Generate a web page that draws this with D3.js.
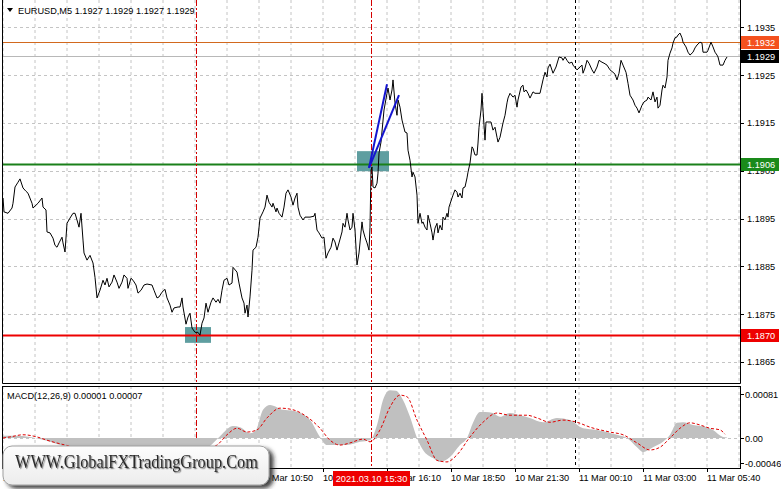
<!DOCTYPE html>
<html><head><meta charset="utf-8">
<script src="https://cdn.jsdelivr.net/npm/d3@7/dist/d3.min.js"></script>
<style>
body{margin:0;background:#fff}
svg{display:block}
text{font-family:"Liberation Sans",Arial,sans-serif}
</style>
</head><body>
<svg id="c" width="781" height="489"></svg>
<script>
// ---------- DATA ----------
const symbolTitle = "EURUSD,M5  1.1927 1.1929 1.1927 1.1929";
const macdTitle = "MACD(12,26,9) 0.00001 0.00007";
const watermark = "WWW.GlobalFXTradingGroup.Com";

// bar position (5-minute bars from the left edge) and close price
const priceBars = [0,0.5,2.5,4.5,5,6,7.5,8.5,10,11.5,12.5,14.5,15,16.5,17.5,19.5,20,21.5,22,23.5,25,26,27,28,29.5,30,31,32,33.5,35,36,37,38,39,40,40.5,42,43.5,45,46,47,48.5,50,51,52,53,54.5,55.5,57,58,59.5,60.5,62,62.5,64,65,66.5,67.5,69,70.5,72,74.5,75.5,77,78,79.5,81,82,83.5,84.5,85.5,87.5,88.5,89.5,90,91.5,92.5,93.5,94.5,96,97.5,98.5,99.5,100.5,101.5,102.5,104,105,106.5,107.5,108.5,109.5,110.5,112,113,114.5,115,117,118,119.5,120.5,121,122,122.5,123.5,124.5,125,126.5,127.5,128.5,130,131,132,133,134.5,135,136.5,137,138,139.5,140.5,141.5,142.5,144,145,146,147,147.5,148.5,150,151,153.5,155.5,156,157,158,159.5,160.5,161.5,162.5,164,165,166,167,168,169.5,170,171,172,172.5,173.5,174.5,175,176,177,178,179.5,180,181,182,183,183.5,184,184.5,185,186,187,187.5,188,189,190.5,192,192.5,193.5,194.5,195,196,197,197.5,198.5,199.5,201,202,202.5,203.5,204.5,205,206,207,207.5,208.5,209.5,210,211,212,212.5,213.5,214.5,215,216,217,217.5,218.5,219.5,220,221,222,222.5,223,224.5,225,226,227,227.5,228.5,229.5,230,231,232,232.5,233.5,234.5,235,236,237,237.5,238,239,239.5,240,241,241.5,242.5,244,245,246,247,247.5,248.5,250,251,252,252.5,253.5,255,256,257,257.5,259,260,260.5,261.5,262.5,263.5,265,266,268.5,270,271,272,272.5,273.5,275,276.5,278,279.5,280,281,282,283,284.5,285,287,288,289.5,290,291,292,293,294.5,295.5,297,298,299.5,300.5,302,303.5,305,306,307,308,309,310,311.5,312.5,313.5,315,316,317,318,319.5,320.5,322,322.5,324,325,326,327,327.5,328.5,329.5,330,331,332,332.5,333.5,334.5,335,336,337,337.5,338.5,339.5,340,341.5,342.5,343.5,345,346,347,348.5,349.5,350,352,352.5,354,355,356,357,357.5,358.5,360,361,362];
const priceClose = [1.18993,1.18964,1.18961,1.18972,1.18982,1.19016,1.19026,1.19033,1.19014,1.19007,1.19003,1.18982,1.18972,1.18978,1.18982,1.18993,1.18974,1.18968,1.18922,1.18920,1.18909,1.18894,1.18890,1.18899,1.18911,1.18899,1.18880,1.18940,1.18951,1.18961,1.18961,1.18947,1.18932,1.18961,1.18905,1.18878,1.18863,1.18873,1.18857,1.18827,1.18784,1.18800,1.18821,1.18811,1.18825,1.18807,1.18817,1.18832,1.18817,1.18804,1.18817,1.18832,1.18825,1.18804,1.18825,1.18821,1.18811,1.18794,1.18800,1.18811,1.18813,1.18811,1.18800,1.18784,1.18786,1.18796,1.18802,1.18784,1.18769,1.18754,1.18763,1.18765,1.18765,1.18784,1.18765,1.18729,1.18744,1.18752,1.18721,1.18712,1.18712,1.18706,1.18731,1.18742,1.18773,1.18754,1.18775,1.18784,1.18775,1.18781,1.18773,1.18800,1.18821,1.18825,1.18811,1.18815,1.18848,1.18838,1.18815,1.18784,1.18773,1.18752,1.18769,1.18744,1.18786,1.18842,1.18884,1.18890,1.18911,1.18951,1.18964,1.18974,1.18999,1.18984,1.18974,1.18982,1.18964,1.18972,1.18961,1.18953,1.18974,1.19003,1.19010,1.18995,1.18978,1.18993,1.19003,1.18974,1.18957,1.18947,1.18953,1.18953,1.18955,1.18961,1.18926,1.18920,1.18909,1.18911,1.18867,1.18878,1.18890,1.18909,1.18901,1.18884,1.18899,1.18922,1.18940,1.18932,1.18961,1.18947,1.18926,1.18932,1.18961,1.18926,1.18853,1.18878,1.18943,1.18926,1.18911,1.18899,1.18884,1.18932,1.19051,1.19058,1.19016,1.19014,1.19024,1.19045,1.19087,1.19110,1.19177,1.19212,1.19223,1.19198,1.19219,1.19240,1.19192,1.19166,1.19198,1.19183,1.19156,1.19131,1.19129,1.19093,1.19072,1.19037,1.19047,1.19037,1.18999,1.18940,1.18961,1.18940,1.18943,1.18932,1.18926,1.18957,1.18940,1.18920,1.18905,1.18930,1.18940,1.18920,1.18936,1.18926,1.18953,1.18947,1.18961,1.18953,1.18974,1.18993,1.18999,1.19010,1.19005,1.18995,1.19003,1.18993,1.19014,1.19016,1.19035,1.19047,1.19066,1.19100,1.19097,1.19083,1.19083,1.19108,1.19141,1.19177,1.19212,1.19177,1.19114,1.19152,1.19152,1.19152,1.19135,1.19141,1.19120,1.19110,1.19120,1.19150,1.19166,1.19192,1.19202,1.19212,1.19204,1.19208,1.19183,1.19198,1.19225,1.19229,1.19215,1.19219,1.19212,1.19202,1.19215,1.19212,1.19212,1.19240,1.19256,1.19246,1.19265,1.19273,1.19254,1.19267,1.19288,1.19286,1.19281,1.19288,1.19281,1.19275,1.19277,1.19271,1.19261,1.19265,1.19271,1.19254,1.19265,1.19281,1.19275,1.19261,1.19254,1.19267,1.19281,1.19277,1.19275,1.19271,1.19261,1.19256,1.19252,1.19240,1.19254,1.19281,1.19271,1.19256,1.19233,1.19208,1.19198,1.19187,1.19181,1.19171,1.19187,1.19194,1.19198,1.19204,1.19198,1.19215,1.19194,1.19204,1.19181,1.19187,1.19219,1.19229,1.19223,1.19246,1.19281,1.19296,1.19307,1.19317,1.19328,1.19330,1.19334,1.19338,1.19328,1.19319,1.19309,1.19298,1.19292,1.19298,1.19307,1.19313,1.19319,1.19317,1.19298,1.19298,1.19302,1.19319,1.19309,1.19298,1.19292,1.19288,1.19271,1.19271,1.19281,1.19288];

// MACD histogram (main line) and signal line
const macdBars = [0,6,13.5,21,28.5,36,43.5,51,58.5,66,73.5,81,88.5,96,101,106,109.5,115,118.5,123.5,126.5,130,133.5,140,145,153.5,158.5,162,172,178.5,183.5,187,190,193.5,196.5,200,203.5,207,210,215,218.5,223.5,228.5,232,235,238.5,241,245,248.5,253.5,258.5,263.5,270,277,283.5,290,297,307,312,317,320,325,330,333.5,337,340,345,352,355,360,362];
const macdMain = [0.00004,0.00004,0.00002,-0.00004,-0.00013,-0.00026,-0.00037,-0.00041,-0.00031,-0.00026,-0.00022,-0.00022,-0.00026,-0.00031,-0.00022,-0.00006,0.00007,0.00022,0.00020,0.00009,0.00015,0.00052,0.00061,0.00052,0.00050,0.00033,0.00002,-0.00013,-0.00013,-0.00007,-0.00004,0.00024,0.00070,0.00088,0.00087,0.00070,0.00039,0.00000,-0.00022,-0.00037,-0.00044,-0.00035,-0.00013,0.00000,0.00028,0.00048,0.00048,0.00046,0.00039,0.00046,0.00042,0.00037,0.00029,0.00037,0.00033,0.00018,0.00015,0.00006,0.00000,-0.00017,-0.00026,-0.00017,-0.00007,0.00006,0.00028,0.00029,0.00024,0.00020,0.00015,0.00002,0.00001];
const signalBars = [0,3.5,10,17,22,33.5,48.5,63.5,78.5,93.5,103.5,107,112,117,122,127,132,138.5,145,152,158.5,163.5,168.5,173.5,180,183.5,188.5,193.5,198.5,202,207,212,217,222,227,233.5,240,247,253.5,262,267,273.5,280,287,293.5,303.5,310,317,323.5,328.5,333.5,338.5,343.5,348.5,353.5,358.5,361];
const signalVals = [0.00000,0.00002,0.00006,0.00002,-0.00004,-0.00015,-0.00026,-0.00028,-0.00024,-0.00024,-0.00018,-0.00013,0.00006,0.00018,0.00011,0.00015,0.00037,0.00055,0.00052,0.00039,0.00018,-0.00004,-0.00013,-0.00009,-0.00002,-0.00007,0.00015,0.00057,0.00079,0.00076,0.00033,-0.00004,-0.00041,-0.00044,-0.00031,0.00002,0.00029,0.00046,0.00042,0.00042,0.00037,0.00029,0.00033,0.00029,0.00020,0.00011,0.00006,-0.00009,-0.00022,-0.00017,0.00000,0.00018,0.00028,0.00024,0.00018,0.00015,0.00007];

// axes
const priceTicks = [1.1865,1.1875,1.1885,1.1895,1.1905,1.1915,1.1925,1.1935];
const macdTicks = [0.00081,0.00,-0.00046];
const macdTickLabels = ["0.00081","0.00","-0.00046"];
const timeTickBars = [0,32,64,96,128,160,192,224,256,288,320,352];
const timeTickLabels = ["10 Mar 00:10","10 Mar 02:50","10 Mar 05:30","10 Mar 08:10","10 Mar 10:50","10 Mar 13:30","10 Mar 16:10","10 Mar 18:50","10 Mar 21:30","11 Mar 00:10","11 Mar 03:00","11 Mar 05:40"];

// horizontal levels (exact prices; labels are shown with 4 digits)
const levelPrices = [1.1932,1.1929,1.19065,1.18706];
const levelLabels = ["1.1932","1.1929","1.1906","1.1870"];
const levelColors = ["#d2691e","#b8b8b8","#1a801a","#ee0000"];
const badgeColors = ["#f4511e","#000000","#1a8a1a","#ee0000"];
const levelWidths = [1,1,2,2];

// vertical markers
const vBars = [96.5,184,286];
const vColors = ["#d40000","#d40000","#000000"];
const cursorLabel = "2021.03.10 15:30";
const cursorBar = 184;

// drawn objects
const boxBar0 = [91,177], boxBar1 = [104,193];
const boxLow = [1.18690,1.19049], boxHigh = [1.18723,1.19091];
const trendBar0 = [183,183], trendBar1 = [192,198];
const trendP0 = [1.19056,1.19056], trendP1 = [1.19231,1.19208];

// ---------- CHART ----------
const svg = d3.select("#c");
const L = 2, R = 740, mainTop = 0, mainBot = 383, mTop = 386, mBot = 468;
const x = d3.scaleLinear().domain([0,368.5]).range([3,740]);
const y = d3.scaleLinear().domain([1.18606,1.19403]).range([383,2]);
const ym = d3.scaleLinear().domain([-0.000552,0.000958]).range([mBot,mTop]);

svg.append("rect").attr("width",781).attr("height",489).attr("fill","#fff");
const defs = svg.append("defs");
defs.append("clipPath").attr("id","cm").append("rect").attr("x",L).attr("y",mainTop).attr("width",R-L).attr("height",mainBot-mainTop);
defs.append("clipPath").attr("id","cmacd").append("rect").attr("x",L).attr("y",mTop).attr("width",R-L).attr("height",mBot-mTop);
const f = defs.append("filter").attr("id","sh").attr("x","-10%").attr("y","-30%").attr("width","130%").attr("height","170%");
f.append("feDropShadow").attr("dx",4).attr("dy",3).attr("stdDeviation",2).attr("flood-color","#222").attr("flood-opacity",0.85);
const tf = defs.append("filter").attr("id","tsh");
tf.append("feDropShadow").attr("dx",1.2).attr("dy",1.2).attr("stdDeviation",0.7).attr("flood-color","#777").attr("flood-opacity",0.9);
const grad = defs.append("linearGradient").attr("id","wg").attr("x1",0).attr("y1",0).attr("x2",0).attr("y2",1);
grad.append("stop").attr("offset","0%").attr("stop-color","#fdfdfd");
grad.append("stop").attr("offset","100%").attr("stop-color","#ececec");

const gMain = svg.append("g").attr("clip-path","url(#cm)");
const gM = svg.append("g").attr("clip-path","url(#cmacd)");

const gridBars = d3.range(0,369,16);
// grids
gMain.selectAll(".vg").data(gridBars).join("line")
  .attr("x1",d=>x(d)).attr("x2",d=>x(d)).attr("y1",mainTop).attr("y2",mainBot)
  .attr("stroke","#c4c4c4").attr("stroke-dasharray","3,3");
gMain.selectAll(".hg").data(priceTicks).join("line")
  .attr("x1",L).attr("x2",R).attr("y1",d=>Math.round(y(d))+0.5).attr("y2",d=>Math.round(y(d))+0.5)
  .attr("stroke","#c4c4c4").attr("stroke-dasharray","3,3");
gM.selectAll(".vg").data(gridBars).join("line")
  .attr("x1",d=>x(d)).attr("x2",d=>x(d)).attr("y1",mTop).attr("y2",mBot)
  .attr("stroke","#c4c4c4").attr("stroke-dasharray","3,3");
gM.append("line").attr("x1",L).attr("x2",R).attr("y1",Math.round(ym(0))+0.5).attr("y2",Math.round(ym(0))+0.5)
  .attr("stroke","#c4c4c4").attr("stroke-dasharray","3,3");

// boxes
gMain.selectAll(".box").data(boxBar0).join("rect")
  .attr("x",(d,i)=>x(d)).attr("width",(d,i)=>x(boxBar1[i])-x(d))
  .attr("y",(d,i)=>y(boxHigh[i])).attr("height",(d,i)=>y(boxLow[i])-y(boxHigh[i]))
  .attr("fill","#5f9ea0");

// levels
gMain.selectAll(".lvl").data(levelPrices).join("line")
  .attr("x1",L).attr("x2",R).attr("y1",d=>Math.round(y(d))+0.5).attr("y2",d=>Math.round(y(d))+0.5)
  .attr("stroke",(d,i)=>levelColors[i]).attr("stroke-width",(d,i)=>levelWidths[i]);

// vertical markers
[gMain,gM].forEach(g=>{
  g.selectAll(".vm").data(vBars).join("line")
   .attr("x1",d=>Math.round(x(d))+0.5).attr("x2",d=>Math.round(x(d))+0.5).attr("y1",0).attr("y2",mBot)
   .attr("stroke",(d,i)=>vColors[i]).attr("stroke-dasharray",(d,i)=>i<2?"6,2,2,2":"3,3");
});

// price line
const pdata = priceBars.map((b,i)=>[b,priceClose[i]]);
gMain.append("path").datum(pdata)
  .attr("d",d3.line().x(d=>x(d[0])).y(d=>y(d[1])))
  .attr("fill","none").attr("stroke","#000").attr("stroke-width",1);

// trend lines
gMain.selectAll(".tl").data(trendBar0).join("line")
  .attr("x1",d=>x(d)).attr("y1",(d,i)=>y(trendP0[i]))
  .attr("x2",(d,i)=>x(trendBar1[i])).attr("y2",(d,i)=>y(trendP1[i]))
  .attr("stroke","#1515d0").attr("stroke-width",2);

// MACD
const mdata = macdBars.map((b,i)=>[b,macdMain[i]]);
gM.append("path").datum(mdata)
  .attr("d",d3.area().x(d=>x(d[0])).y0(ym(0)).y1(d=>ym(d[1])).curve(d3.curveMonotoneX))
  .attr("fill","#c0c0c0");
const sdata = signalBars.map((b,i)=>[b,signalVals[i]]);
gM.append("path").datum(sdata)
  .attr("d",d3.line().x(d=>x(d[0])).y(d=>ym(d[1])).curve(d3.curveMonotoneX))
  .attr("fill","none").attr("stroke","#e00000").attr("stroke-dasharray","3,2");

// frames
svg.append("path").attr("d",`M${L+0.5},0V${mainBot+0.5}H${R+0.5}V0`).attr("fill","none").attr("stroke","#000");
svg.append("rect").attr("x",L+0.5).attr("y",mTop+0.5).attr("width",R-L).attr("height",mBot-mTop).attr("fill","none").attr("stroke","#000");

// right axis main
const fs = "9.2px";
svg.selectAll(".pt").data(priceTicks).join("line")
  .attr("x1",R).attr("x2",R+4).attr("y1",d=>Math.round(y(d))+0.5).attr("y2",d=>Math.round(y(d))+0.5).attr("stroke","#000");
svg.selectAll(".ptl").data(priceTicks).join("text")
  .attr("x",R+7).attr("y",d=>y(d)+3.5).attr("font-size",fs).attr("fill","#000").text(d=>d.toFixed(4));

// badges
const bg = svg.selectAll(".badge").data(levelPrices).join("g");
bg.append("rect").attr("x",R+1).attr("y",d=>Math.round(y(d))-6).attr("width",38).attr("height",13).attr("fill",(d,i)=>badgeColors[i]);
bg.append("text").attr("x",R+7).attr("y",d=>Math.round(y(d))+4).attr("font-size",fs).attr("fill","#fff").text((d,i)=>levelLabels[i]);

// right axis macd
svg.selectAll(".mt").data(macdTicks).join("line")
  .attr("x1",R).attr("x2",R+4).attr("y1",d=>Math.round(ym(d))+0.5).attr("y2",d=>Math.round(ym(d))+0.5).attr("stroke","#000");
svg.selectAll(".mtl").data(macdTicks).join("text")
  .attr("x",R+5).attr("y",d=>ym(d)+3.5).attr("font-size",fs).attr("fill","#000").text((d,i)=>macdTickLabels[i]);

// time axis
svg.selectAll(".tt").data(timeTickBars).join("line")
  .attr("x1",d=>x(d)+0.5).attr("x2",d=>x(d)+0.5).attr("y1",mBot).attr("y2",mBot+4).attr("stroke","#000");
svg.selectAll(".ttl").data(timeTickBars).join("text")
  .attr("x",d=>x(d)).attr("y",481).attr("font-size",fs).attr("fill","#000").text((d,i)=>timeTickLabels[i]);

// cursor time label
const cx = x(cursorBar);
svg.append("rect").attr("x",cx-38).attr("y",471).attr("width",77).attr("height",15).attr("fill","#ee0000");
svg.append("text").attr("x",cx+0.5).attr("y",481.5).attr("text-anchor","middle").attr("font-size",fs).attr("fill","#fff").text(cursorLabel);

// titles
svg.append("path").attr("d","M7,8H13L10,12Z").attr("fill","#000");
svg.append("text").attr("x",18).attr("y",14).attr("font-size",fs).attr("fill","#000").text(symbolTitle);
svg.append("text").attr("x",7).attr("y",399).attr("font-size",fs).attr("fill","#000").text(macdTitle);

// watermark
const wm = svg.append("g");
wm.append("rect").attr("x",3).attr("y",446).attr("width",266).attr("height",39).attr("rx",9)
  .attr("fill","url(#wg)").attr("stroke","#a0a0a0").attr("stroke-width",1).attr("filter","url(#sh)");
wm.append("text").attr("x",15).attr("y",468)
  .style("font-family","'Liberation Serif','Times New Roman',serif")
  .attr("font-size","18.5px").attr("fill","#2a2a2a").attr("textLength",243).attr("lengthAdjust","spacingAndGlyphs")
  .attr("filter","url(#tsh)").text(watermark);
</script>
</body></html>
